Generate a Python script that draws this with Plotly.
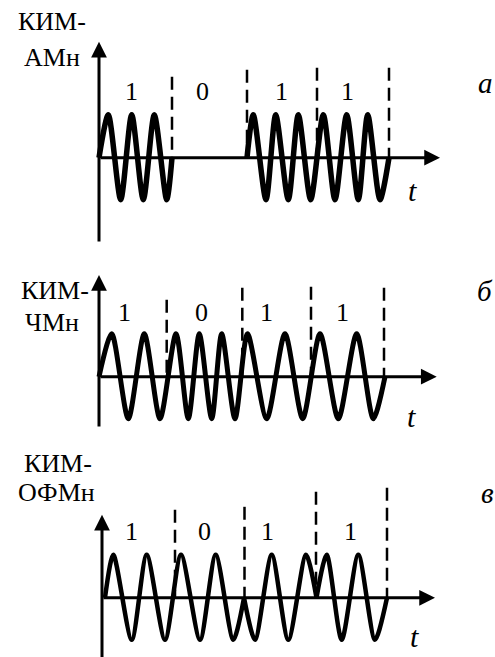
import plotly.graph_objects as go

W, H = 495, 657
SERIF = "Times New Roman, Liberation Serif, serif"

# ---------------------------------------------------------------------------
# Data (time / amplitude in drawing units, measured from each panel's origin)
# ---------------------------------------------------------------------------
# а) КИМ-АМн
am_bits = ["1", "0", "1", "1"]
am_bounds = [73, 148, 218, 290]
am_bound_top = [81, 88, 90, 90]
am_label_t = [32, 103.5, 182, 248]
am_t = [0, 9.3, 21.7, 32.7, 44.3, 55.3, 67.7, 73, None,
        148, 154.3, 167, 176.7, 189.3, 199.3, 211.7, 224.3, 236, 247.7, 259.3, 268.7, 281, 290]
am_v = [0, 43, -42, 43, -42, 43, -42, 0, None,
        0, 43, -42, 43, -42, 43, -42, 43, -42, 43, -42, 43, -42, 0]

# б) КИМ-ЧМн
fm_bits = ["1", "0", "1", "1"]
fm_bounds = [67.7, 143.3, 212, 285]
fm_bound_top = [77, 89, 90, 89]
fm_label_t = [25, 102, 167, 243]
fm_t = [0, 12.7, 29.3, 45.3, 61, 77, 89.3, 100.3, 112.7, 122.7, 136,
        148.5, 167.7, 186, 203.7, 221, 239.3, 257.7, 274.3, 286]
fm_v = [0, 43, -42, 43, -42, 43, -42, 43, -42, 43, -42,
        43, -42, 43, -42, 43, -42, 43, -42, 0]

# в) КИМ-ОФМн
pm_bits = ["1", "0", "1", "1"]
pm_bounds = [73, 142.5, 214, 285]
pm_bound_top = [88, 91, 106, 110]
pm_label_t = [29, 102.5, 165.5, 248]
pm_t = [3, 11.3, 29.7, 44.7, 63, 79, 98, 113.7, 131.3, 142, None,
        142, 153, 169.7, 186.3, 204, 214.5, None,
        214.5, 224.7, 239.7, 256.3, 273, 285]
pm_v = [0, 43, -42, 43, -42, 43, -42, 43, -42, 0, None,
        0, -42, 43, -42, 43, 0, None,
        0, 43, -42, 43, -42, 0]

# ---------------------------------------------------------------------------
# Layout of the three panels (pixel origin, axis extents, text placement)
# ---------------------------------------------------------------------------
panels = [
    dict(t=am_t, v=am_v, bits=am_bits, bounds=am_bounds, tops=am_bound_top,
         label_t=am_label_t, origin=(99, 157.7), lw=5.5,
         yaxis_span=(-85.3, 116), xaxis_tip=341, bit_y=66.7,
         name=[("КИМ-", -47.5, 136.2), ("АМн", -47, 100.2)],
         letter=("а", 386, 75), t_pos=(313, -32.3)),
    dict(t=fm_t, v=fm_v, bits=fm_bits, bounds=fm_bounds, tops=fm_bound_top,
         label_t=fm_label_t, origin=(99, 376.7), lw=5,
         yaxis_span=(-51.3, 101.7), xaxis_tip=337.7, bit_y=64.7,
         name=[("КИМ-", -44, 86.7), ("ЧМн", -47.5, 54.7)],
         letter=("б", 386, 85.7), t_pos=(312, -39.3)),
    dict(t=pm_t, v=pm_v, bits=pm_bits, bounds=pm_bounds, tops=pm_bound_top,
         label_t=pm_label_t, origin=(102, 597.8), lw=4.5,
         yaxis_span=(-62, 83), xaxis_tip=333, bit_y=66,
         name=[("КИМ-", -44.5, 134), ("ОФМн", -46, 105.5)],
         letter=("в", 385, 105), t_pos=(312, -39)),
]

fig = go.Figure()

for i, p in enumerate(panels, start=1):
    sfx = "" if i == 1 else str(i)
    xr, yr = f"x{sfx}", f"y{sfx}"
    ox, oy = p["origin"]
    fig.update_layout(**{
        f"xaxis{sfx}": dict(domain=[0, 1], range=[-ox, W - ox], visible=False,
                            anchor=yr, fixedrange=True),
        f"yaxis{sfx}": dict(domain=[0, 1], range=[-(H - oy), oy], visible=False,
                            anchor=xr, fixedrange=True),
    })

    # bit boundaries (dashed)
    dx, dy = [], []
    for b, top in zip(p["bounds"], p["tops"]):
        dx += [b, b, None]
        dy += [top, 0, None]
    fig.add_trace(go.Scatter(
        x=dx, y=dy, mode="lines", xaxis=xr, yaxis=yr, showlegend=False,
        line=dict(color="black", width=2.5, dash="13px,7px"), hoverinfo="skip",
    ))

    # modulated carrier
    fig.add_trace(go.Scatter(
        x=p["t"], y=p["v"], mode="lines", xaxis=xr, yaxis=yr, showlegend=False,
        line=dict(color="black", width=p["lw"], shape="spline", smoothing=0.75),
        connectgaps=False, hoverinfo="skip",
    ))

    # axes with arrows
    y0, y1 = p["yaxis_span"]
    arrow = dict(xref=xr, yref=yr, axref=xr, ayref=yr, text="", showarrow=True,
                 arrowhead=2, arrowsize=1.05, arrowwidth=3, arrowcolor="black",
                 standoff=0, startstandoff=0)
    fig.add_annotation(x=0, y=y1, ax=0, ay=y0, **arrow)
    fig.add_annotation(x=p["xaxis_tip"], y=0, ax=0, ay=0, **arrow)

    # bit values
    for txt, tx in zip(p["bits"], p["label_t"]):
        fig.add_annotation(x=tx, y=p["bit_y"], xref=xr, yref=yr, text=txt,
                           showarrow=False, font=dict(family=SERIF, size=26, color="black"))

    # signal name
    for txt, tx, ty in p["name"]:
        fig.add_annotation(x=tx, y=ty, xref=xr, yref=yr, text=txt, showarrow=False,
                           font=dict(family=SERIF, size=26, color="black"))

    # panel letter and time label
    lt, lx, ly = p["letter"]
    fig.add_annotation(x=lx, y=ly, xref=xr, yref=yr, text=f"<i>{lt}</i>", showarrow=False,
                       font=dict(family=SERIF, size=29, color="black"))
    fig.add_annotation(x=p["t_pos"][0], y=p["t_pos"][1], xref=xr, yref=yr, text="<i>t</i>",
                       showarrow=False, font=dict(family=SERIF, size=30, color="black"))

fig.update_layout(
    width=W, height=H,
    margin=dict(l=0, r=0, t=0, b=0),
    font=dict(family=SERIF, color="black"),
    paper_bgcolor="white", plot_bgcolor="rgba(0,0,0,0)",
    showlegend=False,
)

# page body has a default 8px margin; drop it so the figure fills the window
fig.write_html("out.html", config={"displayModeBar": False},
               post_script="document.body.style.margin='0';")
